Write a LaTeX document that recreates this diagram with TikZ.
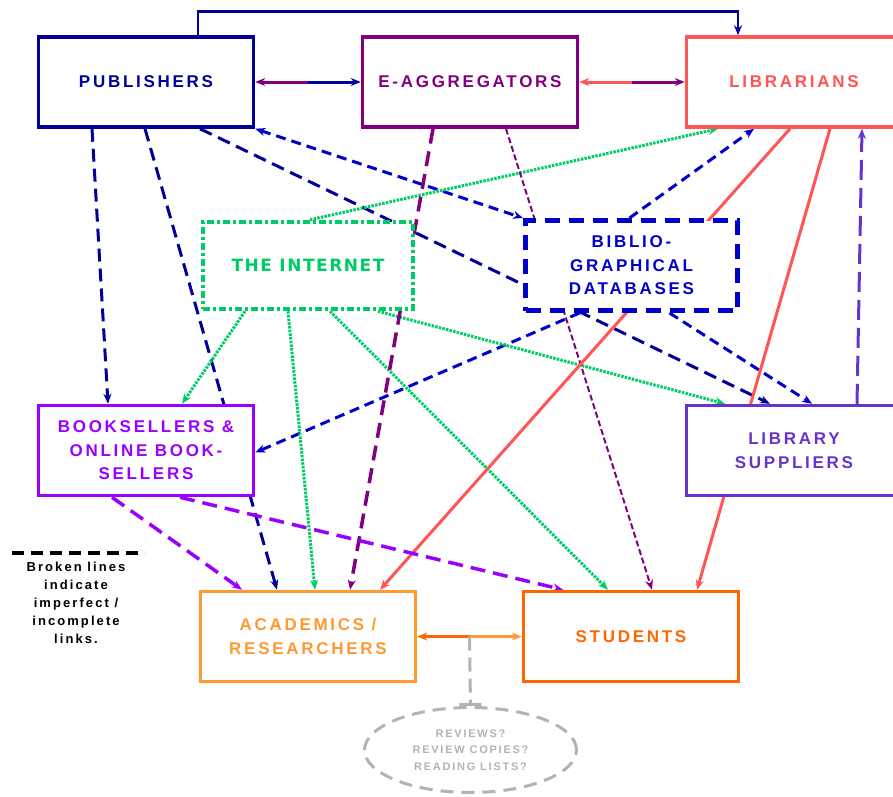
\documentclass[tikz,border=0pt]{standalone}
\usepackage{fontspec}
\setmainfont{Liberation Sans}
\newfontfamily\boxfont[LetterSpace=16]{Liberation Sans}
\newfontfamily\netfont[LetterSpace=9]{DejaVu Sans}
\usepackage{tikz}
\usetikzlibrary{positioning, shapes.geometric, arrows.meta, calc, backgrounds}

\definecolor{pubblue}{HTML}{000099}
\definecolor{dbblue}{HTML}{0000CC}
\definecolor{aggpurple}{HTML}{800080}
\definecolor{libred}{HTML}{FF5555}
\definecolor{netgreen}{HTML}{00CC66}
\definecolor{bookviolet}{HTML}{9900FF}
\definecolor{supviolet}{HTML}{6633CC}
\definecolor{acadorange}{HTML}{FF9933}
\definecolor{studorange}{HTML}{FF6600}
\definecolor{notegray}{HTML}{B3B3B3}

\tikzset{
  actorbox/.style={draw, fill=white, line width=3.5pt, minimum width=215pt,
    minimum height=90pt, align=center,
    font={\boxfont\bfseries\fontsize{17pt}{23.5pt}\selectfont}},
  longdash/.style={line width=3pt, dash pattern=on 13pt off 7pt},
  shortdash/.style={line width=3pt, dash pattern=on 10pt off 6pt},
  dotlink/.style={line width=3pt, dash pattern=on 2.5pt off 1.2pt},
  thindash/.style={line width=2pt, dash pattern=on 6pt off 3pt},
  widedash/.style={line width=3.5pt, dash pattern=on 15pt off 8pt},
  solidlink/.style={line width=3pt}
}

\begin{document}
\begin{tikzpicture}[x=1pt, y=1pt, >={Stealth[length=10pt, width=8pt]}]
    \useasboundingbox (0,0) rectangle (893,-796);

    % top row
    \node [actorbox, draw=pubblue, text=pubblue] (pub) at (146,-82) {PUBLISHERS};
    \node [actorbox, draw=aggpurple, text=aggpurple, right=105.5pt of pub] (eag) {E-AGGREGATORS};
    \node [actorbox, draw=libred, text=libred, right=105.5pt of eag] (lib) {LIBRARIANS};

    % middle
    \node [actorbox, draw=netgreen, text=netgreen, line width=4.5pt,
      dash pattern=on 7pt off 3pt on 3pt off 3pt, minimum width=210pt, minimum height=87pt,
      font={\netfont\bfseries\fontsize{17pt}{20pt}\selectfont}] (net) at (308,-265.5) {THE INTERNET};
    \node [actorbox, draw=dbblue, text=dbblue, line width=5pt, dash pattern=on 15pt off 9pt,
      minimum width=212pt] (dbs) at (631.5,-265.5) {BIBLIO-\\GRAPHICAL\\DATABASES};
    \node [actorbox, draw=bookviolet, text=bookviolet, below=275pt of pub] (bks) {BOOKSELLERS \&\\ONLINE BOOK-\\SELLERS};
    \node [actorbox, draw=supviolet, text=supviolet, below=275pt of lib] (sup) {LIBRARY\\SUPPLIERS};

    % bottom row
    \node [actorbox, draw=acadorange, text=acadorange] (acad) at (308,-636.5) {ACADEMICS /\\RESEARCHERS};
    \node [actorbox, draw=studorange, text=studorange, right=104.5pt of acad] (stu) {STUDENTS};
    \node [ellipse, draw=notegray, text=notegray, fill=white, line width=3pt,
      dash pattern=on 13pt off 8pt, minimum width=212pt, minimum height=85pt, inner sep=0pt,
      align=center, font={\boxfont\bfseries\fontsize{11pt}{16.5pt}\selectfont}]
      (note) at (470.5,-750) {REVIEWS?\\REVIEW COPIES?\\READING LISTS?};

    % key
    \node [align=center, font={\boxfont\bfseries\fontsize{13pt}{18pt}\selectfont}]
      (key) at (76,-603) {Broken lines\\indicate\\imperfect /\\incomplete\\links.};
    \coordinate (keyA) at (12,-553);
    \coordinate (keyB) at (145,-553);
    \draw [line width=3.5pt, dash pattern=on 12pt off 7pt] (keyA) -- (keyB);

    \begin{scope}[on background layer]
    % publishers
    \draw [->, pubblue, line width=2.5pt] ([xshift=52pt]pub.north) -- ++(0,24) -| ([xshift=-56pt]lib.north);
    \coordinate (pe) at ($(pub.east)!0.5!(eag.west)$);
    \draw [->, aggpurple, solidlink] (pe) -- (pub.east);
    \draw [->, pubblue, solidlink] (pe) -- (eag.west);
    \coordinate (el) at ($(eag.east)!0.5!(lib.west)$);
    \draw [->, libred, solidlink] (el) -- (eag.east);
    \draw [->, aggpurple, solidlink] (el) -- (lib.west);
    \draw [->, pubblue, longdash] ([xshift=-54pt]pub.south) -- ([xshift=-38pt]bks.north);
    \draw [->, pubblue, longdash] ([xshift=-1pt]pub.south) -- ([xshift=-31pt]acad.north);
    \draw [->, pubblue, longdash] ([xshift=54pt]pub.south) -- ([xshift=-24pt]sup.north);

    % databases
    \draw [<->, dbblue, shortdash] (pub.south east) -- (dbs.north west);
    \draw [->, dbblue, shortdash] ([xshift=-2pt]dbs.north) -- ([xshift=-40pt]lib.south);
    \draw [->, dbblue, shortdash] ([xshift=-52pt]dbs.south) -- ([yshift=-2pt]bks.east);
    \draw [->, dbblue, shortdash] ([xshift=38pt]dbs.south) -- ([xshift=18pt]sup.north);

    % internet
    \draw [->, netgreen, dotlink] ([xshift=2pt]net.north) -- ([xshift=-76pt]lib.south);
    \draw [->, netgreen, dotlink] ([xshift=-63pt]net.south) -- ([xshift=36pt]bks.north);
    \draw [->, netgreen, dotlink] ([xshift=-20pt]net.south) -- ([xshift=7pt]acad.north);
    \draw [->, netgreen, dotlink] ([xshift=22pt]net.south) -- ([xshift=-23pt]stu.north);
    \draw [->, netgreen, dotlink] ([xshift=70pt]net.south) -- ([xshift=-69pt]sup.north);

    % e-aggregators
    \draw [->, aggpurple, widedash] ([xshift=-37pt]eag.south) -- ([xshift=42pt]acad.north);
    \draw [->, aggpurple, thindash] ([xshift=36pt]eag.south) -- ([xshift=21pt]stu.north);

    % librarians and suppliers
    \draw [->, libred, solidlink] ([xshift=-4pt]lib.south) -- ([xshift=72pt]acad.north);
    \draw [->, libred, solidlink] ([xshift=36pt]lib.south) -- ([xshift=66pt]stu.north);
    \draw [->, supviolet, line width=3pt, dash pattern=on 20pt off 8pt] ([xshift=63pt]sup.north) -- ([xshift=68pt]lib.south);

    % booksellers
    \draw [->, bookviolet, widedash] ([xshift=-34pt]bks.south) -- ([xshift=-66pt]acad.north);
    \draw [->, bookviolet, widedash] ([xshift=34pt]bks.south) -- ([xshift=-68pt]stu.north);

    % academics and students
    \coordinate (as) at ($(acad.east)!0.5!(stu.west)$);
    \draw [->, studorange, solidlink] (as) -- (acad.east);
    \draw [->, acadorange, solidlink] (as) -- (stu.west);
    \draw [-{Bar[width=22pt]}, notegray, line width=3pt, dash pattern=on 14pt off 7pt] (as) -- (note.north);
    \end{scope}
\end{tikzpicture}
\end{document}
